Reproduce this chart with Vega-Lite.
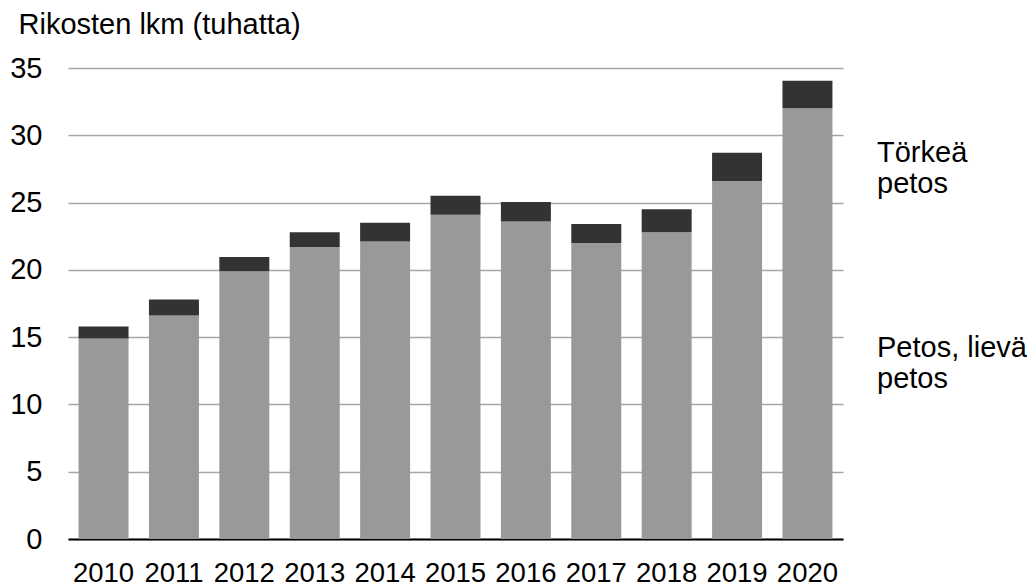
{
  "$schema": "https://vega.github.io/schema/vega-lite/v6.json",
  "width": 775,
  "height": 471,
  "autosize": {"type": "none"},
  "padding": {"left": 68, "top": 68, "right": 184, "bottom": 49},
  "background": "white",
  "config": {
    "font": "Liberation Sans",
    "view": {"stroke": null},
    "axis": {"labelFont": "Liberation Sans", "titleFont": "Liberation Sans", "labelColor": "#000000", "titleColor": "#000000"},
    "legend": {"labelFont": "Liberation Sans"}
  },
  "data": {
    "values": [
      {"Vuosi": "2010", "Luokka": "Petos, lievä petos", "Arvo": 14.9},
      {"Vuosi": "2010", "Luokka": "Törkeä petos", "Arvo": 0.9},
      {"Vuosi": "2011", "Luokka": "Petos, lievä petos", "Arvo": 16.6},
      {"Vuosi": "2011", "Luokka": "Törkeä petos", "Arvo": 1.2},
      {"Vuosi": "2012", "Luokka": "Petos, lievä petos", "Arvo": 19.9},
      {"Vuosi": "2012", "Luokka": "Törkeä petos", "Arvo": 1.05},
      {"Vuosi": "2013", "Luokka": "Petos, lievä petos", "Arvo": 21.7},
      {"Vuosi": "2013", "Luokka": "Törkeä petos", "Arvo": 1.1},
      {"Vuosi": "2014", "Luokka": "Petos, lievä petos", "Arvo": 22.1},
      {"Vuosi": "2014", "Luokka": "Törkeä petos", "Arvo": 1.4},
      {"Vuosi": "2015", "Luokka": "Petos, lievä petos", "Arvo": 24.1},
      {"Vuosi": "2015", "Luokka": "Törkeä petos", "Arvo": 1.4},
      {"Vuosi": "2016", "Luokka": "Petos, lievä petos", "Arvo": 23.6},
      {"Vuosi": "2016", "Luokka": "Törkeä petos", "Arvo": 1.45},
      {"Vuosi": "2017", "Luokka": "Petos, lievä petos", "Arvo": 22.0},
      {"Vuosi": "2017", "Luokka": "Törkeä petos", "Arvo": 1.4},
      {"Vuosi": "2018", "Luokka": "Petos, lievä petos", "Arvo": 22.8},
      {"Vuosi": "2018", "Luokka": "Törkeä petos", "Arvo": 1.7},
      {"Vuosi": "2019", "Luokka": "Petos, lievä petos", "Arvo": 26.6},
      {"Vuosi": "2019", "Luokka": "Törkeä petos", "Arvo": 2.1},
      {"Vuosi": "2020", "Luokka": "Petos, lievä petos", "Arvo": 32.0},
      {"Vuosi": "2020", "Luokka": "Törkeä petos", "Arvo": 2.05}
    ]
  },
  "mark": {"type": "bar"},
  "encoding": {
    "x": {
      "field": "Vuosi",
      "type": "ordinal",
      "scale": {"paddingInner": 0.29, "paddingOuter": 0.15},
      "axis": {
        "title": null,
        "labelAngle": 0,
        "labelFontSize": 27.5,
        "labelPadding": 20,
        "ticks": false,
        "domainColor": "#000000",
        "domainWidth": 2,
        "grid": false
      }
    },
    "y": {
      "field": "Arvo",
      "type": "quantitative",
      "stack": "zero",
      "scale": {"domain": [0, 35], "nice": false},
      "axis": {
        "values": [0, 5, 10, 15, 20, 25, 30, 35],
        "title": "Rikosten lkm (tuhatta)",
        "titleAngle": 0,
        "titleAlign": "left",
        "titleBaseline": "alphabetic",
        "titleX": -50,
        "titleY": -35,
        "titleFontSize": 29,
        "titleFontWeight": "normal",
        "labelFontSize": 29,
        "labelPadding": 26,
        "ticks": false,
        "domain": false,
        "grid": true,
        "gridColor": "#a6a6a6",
        "gridWidth": 1.5
      }
    },
    "color": {
      "field": "Luokka",
      "type": "nominal",
      "scale": {"domain": ["Törkeä petos", "Petos, lievä petos"], "range": ["#333333", "#999999"]},
      "legend": {
        "title": null,
        "orient": "none",
        "legendX": 780,
        "legendY": 70,
        "padding": 0,
        "symbolSize": 1,
        "symbolOpacity": 0,
        "symbolStrokeWidth": 0,
        "labelOffset": 0,
        "labelFontSize": 29,
        "labelColor": "#000000",
        "labelLimit": 300,
        "rowPadding": 134,
        "labelExpr": "datum.label == 'Törkeä petos' ? ['Törkeä', 'petos'] : ['Petos, lievä', 'petos']"
      }
    },
    "order": {"field": "Luokka", "type": "ordinal", "sort": "ascending"}
  }
}
